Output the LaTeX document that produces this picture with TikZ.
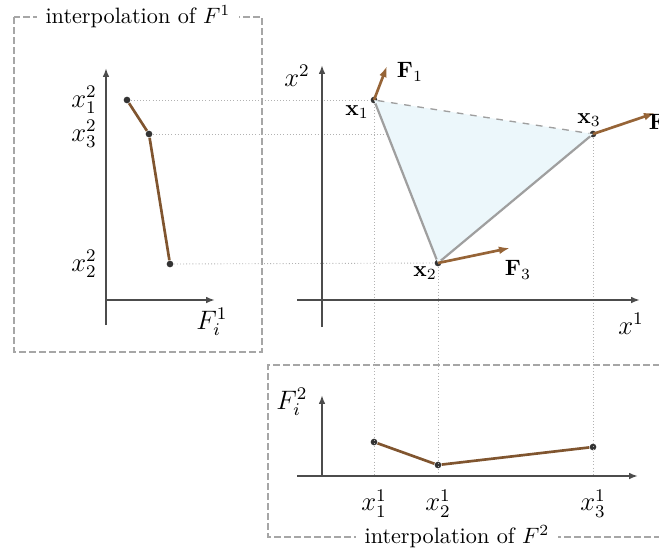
\documentclass[tikz,border=0pt]{standalone}
\usepackage{amsmath}
\usetikzlibrary{arrows.meta, positioning}
\definecolor{forcebrown}{RGB}{150,100,55}
\definecolor{trifill}{RGB}{236,247,251}

\begin{document}
\begin{tikzpicture}[
  x=0.45pt, y=-0.45pt,
  >={Latex[open, length=4pt, width=3pt]},
  axis/.style={draw=black!70, line width=0.8pt, ->},
  guide/.style={draw=gray!60, densely dotted, line width=0.4pt},
  interp/.style={draw=forcebrown!85!black, line width=1.2pt},
  force/.style={draw=forcebrown, line width=1.2pt, -{Latex[length=5pt, width=3.5pt]}},
  edge/.style={draw=gray!75, line width=1pt},
  frame/.style={draw=gray!70, line width=1pt, dash pattern=on 3pt off 1.5pt},
  dot/.style={circle, fill=black!80, inner sep=0pt, minimum size=3pt},
  title/.style={fill=white, inner xsep=4pt},
  lab/.style={font=\large, inner sep=1pt},
]
\useasboundingbox (0,0) rectangle (659,547);

% ── frames ─────────────────────────────────
\draw[frame] (14,17) rectangle (262,352);
\node[title] (title1) at (138,17) {interpolation of $F^1$};
\draw[frame] (690,365) -- (268,365) -- (268,537) -- (690,537);
\node[title] (title2) at (457,537) {interpolation of $F^2$};

% ── points ─────────────────────────────────
\node[dot] (x1) at (374,100) {};
\node[dot] (x2) at (438,263) {};
\node[dot] (x3) at (593,134) {};
\node[dot] (l1) at (127,100) {};
\node[dot] (l3) at (149,134) {};
\node[dot] (l2) at (170,264) {};
\node[dot] (b1) at (374,442) {};
\node[dot] (b2) at (438,465) {};
\node[dot] (b3) at (593,447) {};
\coordinate (g1) at (374,476);
\coordinate (g2) at (438,476);
\coordinate (g3) at (593,476);

% ── guides ─────────────────────────────────
\draw[guide] (l1) -- (x1);
\draw[guide] (l3) -- (x3);
\draw[guide] (l2) -- (x2);
\draw[guide] (x1) -- (g1);
\draw[guide] (x2) -- (g2);
\draw[guide] (x3) -- (g3);

% ── triangle ───────────────────────────────
\fill[trifill] (x1.center) -- (x2.center) -- (x3.center) -- cycle;
\draw[edge] (x1) -- (x2);
\draw[edge] (x2) -- (x3);
\draw[edge, dashed, line width=0.6pt] (x1) -- (x3);

% ── left axes ──────────────────────────────
\coordinate (lbot) at (106,325);
\coordinate (ltop) at (106,68);
\coordinate (lorig) at (106,300);
\coordinate (lend) at (215,300);
\draw[axis] (lbot) -- (ltop);
\draw[axis] (lorig) -- (lend);
\node[lab, left=3pt of l1 -| lorig] (lx12) {$x_1^2$};
\node[lab, left=3pt of l3 -| lorig] (lx32) {$x_3^2$};
\node[lab, left=3pt of l2 -| lorig] (lx22) {$x_2^2$};
\node[lab] (lF1) at (212,322) {$F_i^1$};
\draw[interp] (l1) -- (l3) -- (l2);

% ── main axes ──────────────────────────────
\coordinate (mbot) at (322,327);
\coordinate (mtop) at (322,65);
\coordinate (mleft) at (297,300);
\coordinate (mend) at (640,300);
\draw[axis] (mbot) -- (mtop);
\draw[axis] (mleft) -- (mend);
\node[lab] (mx2) at (297,76) {$x^2$};
\node[lab] (mx1) at (631,324) {$x^1$};

% ── forces ─────────────────────────────────
\coordinate (f1) at (387,66);
\coordinate (f3) at (510,248);
\coordinate (f2) at (655,113);
\draw[force] (x1.center) -- (f1);
\draw[force] (x2.center) -- (f3);
\draw[force] (x3.center) -- (f2);
\node (F1) at (410,72) {$\mathbf{F}_1$};
\node (F3) at (518,270) {$\mathbf{F}_3$};
\node[anchor=west] (F2) at (641,124) {$\mathbf{F}_2$};
\node (bx1) at (357,112) {$\mathbf{x}_1$};
\node (bx3) at (589,120) {$\mathbf{x}_3$};
\node (bx2) at (425,273) {$\mathbf{x}_2$};

% ── lower axes ─────────────────────────────
\coordinate (bbot) at (322,476);
\coordinate (btop) at (322,395);
\coordinate (bleft) at (297,476);
\coordinate (bend) at (638,476);
\draw[axis] (bbot) -- (btop);
\draw[axis] (bleft) -- (bend);
\node[lab] (bF2) at (292,402) {$F_i^2$};
\draw[interp] (b1) -- (b2) -- (b3);
\node[lab, below=5pt of g1] (tx1) {$x_1^1$};
\node[lab, below=5pt of g2] (tx2) {$x_2^1$};
\node[lab, below=5pt of g3] (tx3) {$x_3^1$};

\end{tikzpicture}
\end{document}
